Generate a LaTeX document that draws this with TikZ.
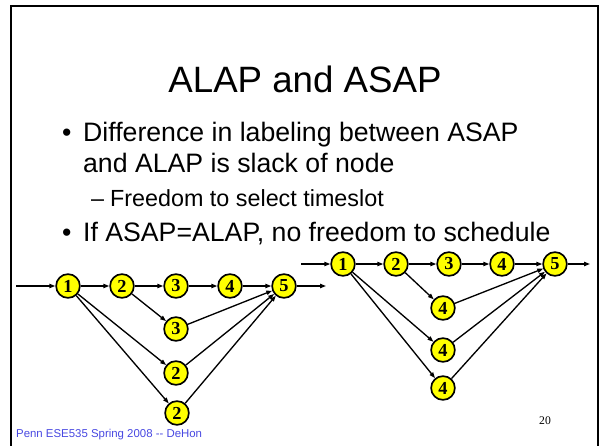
\documentclass[tikz,border=0pt]{standalone}
\usepackage{fontspec}
\setmainfont{Liberation Sans}
\newfontfamily\serifnum{Liberation Serif}
\usetikzlibrary{arrows.meta}
\definecolor{nodeyellow}{RGB}{255,255,0}
\definecolor{footblue}{RGB}{72,72,225}
\begin{document}
\begin{tikzpicture}[x=1.2pt,y=-1.2pt,
  vtx/.style={circle,draw=black,line width=2pt,fill=nodeyellow,minimum size=28.5pt,inner sep=0pt,
    font=\serifnum\bfseries\fontsize{22}{22}\selectfont},
  edge/.style={draw=black,line width=1.6pt,-{Triangle[length=7pt,width=5pt]}},
  lvlone/.style={anchor=base west,inner sep=0pt,font=\fontsize{32}{36}\selectfont},
  lvltwo/.style={anchor=base west,inner sep=0pt,font=\fontsize{28}{32}\selectfont}]
\useasboundingbox (0,0) rectangle (600,446);
% slide frame
\draw[line width=2.4pt] (11,447) -- (11,6) -- (597.5,6) -- (597.5,447);
% title and bullets
\node[anchor=base,inner sep=0pt,font=\fontsize{44}{48}\selectfont] (title) at (305,92) {ALAP and ASAP};
\node[lvlone] (b1) at (62,141) {•};
\node[lvlone] (t1) at (83,141) {Difference in labeling between ASAP};
\node[lvlone] (t2) at (83,172) {and ALAP is slack of node};
\node[lvltwo] (d1) at (91,206) {–};
\node[lvltwo] (t3) at (110,206) {Freedom to select timeslot};
\node[lvlone] (b2) at (62,241) {•};
\node[lvlone] (t4) at (83,241) {If ASAP=ALAP, no freedom to schedule};
% left graph
\coordinate (Lin) at (16,286);
\coordinate (Lout) at (326,286);
\node[vtx] (L1) at (68,286) {1};
\node[vtx] (L2) at (122,286) {2};
\node[vtx] (L3) at (176,286) {3};
\node[vtx] (L4) at (230,286) {4};
\node[vtx] (L5) at (284,286) {5};
\node[vtx] (La) at (176,329) {3};
\node[vtx] (Lb) at (176,373) {2};
\node[vtx] (Lc) at (177,413) {2};
\draw[edge] (Lin) -- (L1);
\draw[edge] (L1) -- (L2);
\draw[edge] (L2) -- (L3);
\draw[edge] (L3) -- (L4);
\draw[edge] (L4) -- (L5);
\draw[edge] (L5) -- (Lout);
\draw[edge] (L2) -- (La);
\draw[edge] (L1) -- (Lb);
\draw[edge] (L1) -- (Lc);
\draw[edge] (La) -- (L5);
\draw[edge] (Lb) -- (L5);
\draw[edge] (Lc) -- (L5);
% right graph
\coordinate (Rin) at (301,264);
\coordinate (Rout) at (590,264);
\node[vtx] (R1) at (343,264) {1};
\node[vtx] (R2) at (396,264) {2};
\node[vtx] (R3) at (449,264) {3};
\node[vtx] (R4) at (502,264) {4};
\node[vtx] (R5) at (555,264) {5};
\node[vtx] (Ra) at (443,308) {4};
\node[vtx] (Rb) at (443,350) {4};
\node[vtx] (Rc) at (443,388) {4};
\draw[edge] (Rin) -- (R1);
\draw[edge] (R1) -- (R2);
\draw[edge] (R2) -- (R3);
\draw[edge] (R3) -- (R4);
\draw[edge] (R4) -- (R5);
\draw[edge] (R5) -- (Rout);
\draw[edge] (R2) -- (Ra);
\draw[edge] (R1) -- (Rb);
\draw[edge] (R1) -- (Rc);
\draw[edge] (Ra) -- (R5);
\draw[edge] (Rb) -- (R5);
\draw[edge] (Rc) -- (R5);
% footer and slide number
\node[anchor=base west,inner sep=0pt,text=footblue,font=\fontsize{13.7}{14}\selectfont] (foot) at (16,437.5) {Penn ESE535 Spring 2008 -{}- DeHon};
\node[anchor=base,inner sep=0pt,font=\serifnum\fontsize{14}{14}\selectfont] (num) at (545,424) {20};
\end{tikzpicture}
\end{document}
